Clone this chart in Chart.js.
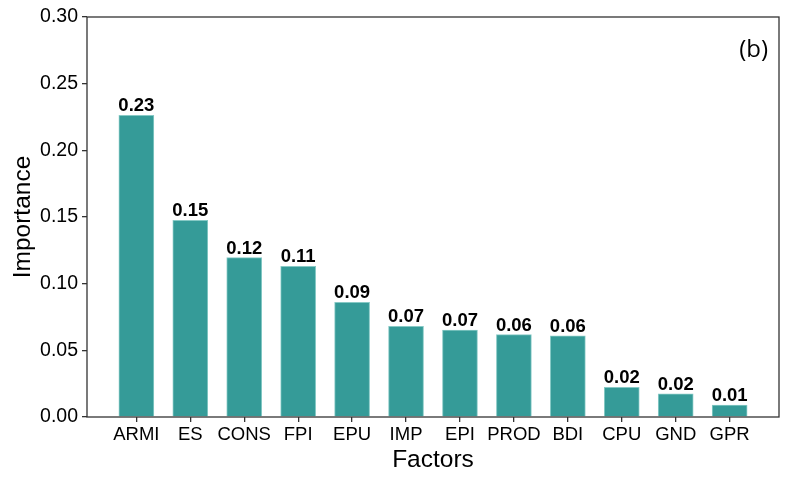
<!DOCTYPE html>
<html>
<head>
<meta charset="utf-8">
<script src="https://cdn.jsdelivr.net/npm/chart.js@4/dist/chart.umd.min.js"></script>
<style>
  html, body { margin: 0; padding: 0; background: #fff; }
  #wrap { width: 789px; height: 483px; }
</style>
</head>
<body>
<div id="wrap"><canvas id="chart"></canvas></div>
<script>
const factors = ['ARMI', 'ES', 'CONS', 'FPI', 'EPU', 'IMP', 'EPI', 'PROD', 'BDI', 'CPU', 'GND', 'GPR'];
const importance = [0.2263, 0.1475, 0.1195, 0.113, 0.086, 0.068, 0.0652, 0.0618, 0.0608, 0.0223, 0.0173, 0.009];
const yTicks = [0, 0.05, 0.10, 0.15, 0.20, 0.25, 0.30];

const fontFamily = '"Liberation Sans", Arial, sans-serif';
const spine = '#333333';

const frame = {
  id: 'frame',
  afterDraw(chart) {
    const { ctx, chartArea: a } = chart;
    ctx.save();
    ctx.strokeStyle = spine;
    ctx.lineWidth = 1.3;
    ctx.strokeRect(a.left, a.top, a.right - a.left, a.bottom - a.top);
    ctx.fillStyle = '#000';
    ctx.font = '24px "Open Sans", sans-serif';
    ctx.textAlign = 'right';
    ctx.textBaseline = 'alphabetic';
    ctx.fillText('(b)', a.right - 11, 57);
    ctx.restore();
  },
};

const valueLabels = {
  id: 'valueLabels',
  afterDatasetsDraw(chart) {
    const { ctx } = chart;
    const meta = chart.getDatasetMeta(0);
    ctx.save();
    ctx.fillStyle = '#000';
    ctx.font = 'bold 18.5px ' + fontFamily;
    ctx.textAlign = 'center';
    ctx.textBaseline = 'alphabetic';
    meta.data.forEach((bar, i) => {
      ctx.fillText(importance[i].toFixed(2), bar.x, bar.y - 4);
    });
    ctx.restore();
  },
};

new Chart(document.getElementById('chart'), {
  type: 'bar',
  data: {
    datasets: [{
      data: importance.map((v, i) => ({ x: i, y: v })),
      backgroundColor: '#359b98',
      borderColor: '#86c9c5',
      borderWidth: 1,
      barThickness: 35,
    }],
  },
  options: {
    responsive: true,
    maintainAspectRatio: false,
    animation: false,
    layout: { padding: { top: 17, right: 10, left: 0, bottom: 0 } },
    plugins: { legend: { display: false }, tooltip: { enabled: false } },
    scales: {
      x: {
        type: 'linear',
        offset: false,
        min: -0.915,
        max: 11.915,
        afterBuildTicks: (s) => { s.ticks = factors.map((f, i) => ({ value: i })); },
        afterFit: (s) => { s.height = 66; },
        ticks: {
          autoSkip: false,
          maxRotation: 0,
          color: '#000',
          padding: 2,
          font: { family: fontFamily, size: 18.5 },
          callback: (v) => factors[v],
        },
        grid: { offset: false, drawOnChartArea: false, drawTicks: true, tickLength: 5, color: spine, lineWidth: 1.3 },
        border: { display: false },
        title: {
          display: true,
          text: 'Factors',
          color: '#000',
          font: { family: fontFamily, size: 24.5 },
          padding: { top: 0, bottom: 8 },
        },
      },
      y: {
        min: 0,
        max: 0.3,
        afterBuildTicks: (s) => { s.ticks = yTicks.map((v) => ({ value: v })); },
        afterFit: (s) => { s.width = 87; },
        ticks: {
          color: '#000',
          padding: 4,
          font: { family: fontFamily, size: 19.5 },
          callback: (v) => v.toFixed(2),
        },
        grid: { drawOnChartArea: false, drawTicks: true, tickLength: 5, color: spine, lineWidth: 1.3 },
        border: { display: false },
        title: {
          display: true,
          text: 'Importance',
          color: '#000',
          font: { family: fontFamily, size: 24.5 },
          padding: { top: 9, bottom: 0 },
        },
      },
    },
  },
  plugins: [frame, valueLabels],
});
</script>
</body>
</html>
